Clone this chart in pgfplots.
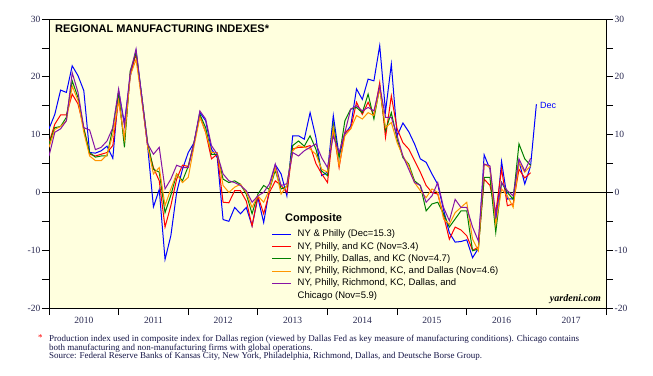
\documentclass[border=0pt]{standalone}
\usepackage{fontspec}
\setmainfont{Liberation Sans}
\newfontfamily\seriffont{Liberation Serif}
\usepackage{pgfplots}
\usepackage{pgfplotstable}
\pgfplotsset{compat=1.18}
\definecolor{bgyellow}{RGB}{255,255,222}
\definecolor{tickcol}{RGB}{40,40,80}
\definecolor{footcol}{RGB}{20,20,70}
\definecolor{sblue}{RGB}{0,0,255}
\definecolor{sred}{RGB}{255,0,0}
\definecolor{sgreen}{RGB}{0,128,0}
\definecolor{sorange}{RGB}{255,150,0}
\definecolor{spurple}{RGB}{135,20,165}

\pgfplotstableread{
i ny kc dal rich chi
0 11 8.6 8.4 7.8 6.3
1 13.5 11.8 11.2 10.9 10.4
2 17.7 13.4 11.4 11.4 11
3 17.3 13.4 13 12.4 12.4
4 21.9 17.0 19.3 18.4 20.7
5 20.2 15.3 16.4 15.9 17.3
6 17.6 11.2 11 10.4 11.2
7 6.9 6.6 6.9 6.3 10.8
8 6.8 6.3 6.1 5.5 7.4
9 7.2 6.6 6.3 5.5 7.8
10 8 6.9 6.3 6.5 8.9
11 5.9 8.1 11.2 10 11.2
12 17.5 16.1 17.3 15.9 17.9
13 12 9 7.8 9.2 11.5
14 20 20.5 21 20.2 20.7
15 24.5 23.9 24.2 23 24.8
16 16.5 16 16.5 16 16.5
17 8 8 8.6 8 8.4
18 -2.5 4.3 4 3.2 6.6
19 0.5 2 3.5 4.3 7.8
20 -11.6 -6 -3.5 -2.3 0.6
21 -7.5 -2.3 -0.5 0.6 2.3
22 0 2.3 3.2 3.2 4.7
23 4 4.7 2 1.7 4.3
24 6.9 4.5 4.5 2.6 4.3
25 8.6 8.6 8.6 8 8.6
26 13.8 13.2 13.5 13 14.1
27 12.4 10.4 11.2 10.4 12.7
28 7.5 5.8 6.6 6.9 8.1
29 6 6.6 6.6 6.9 6.6
30 -4.7 -1.7 2.3 1.2 3.2
31 -5 -1.8 1.7 0 2
32 -2.6 0.3 2 0.9 1.7
33 -3.7 0.3 1.4 1.4 1.2
34 -2.6 -1.5 -0.3 0 0.3
35 -5.8 -5.8 -3.7 -2.6 -1.7
36 -0.9 -0.6 -0.3 -0.6 -0.6
37 -5.2 -3.7 1.2 -1.7 0
38 0.6 0 0.5 0.5 1.5
39 4.8 2 3.8 4.3 4.9
40 3.2 1.2 0.6 -0.3 1.2
41 -0.6 0 1 1.2 1.5
42 9.8 7.5 8.1 7.2 6.9
43 9.8 7.8 8.9 8.1 6.3
44 9.2 7.8 8 7.8 7.2
45 13.8 8.1 9.8 7.5 7.8
46 9.5 5 7.5 6.6 8.4
47 2.9 3.2 3.7 4 6
48 3.5 1.7 2.9 3.5 4.3
49 13.3 11 11.8 11.2 9.8
50 6.3 4.3 6 4.6 6.9
51 10.1 10.4 12.4 9.8 10.4
52 11.5 11 14.4 11 14.4
53 17.9 15.6 14.7 13.3 15
54 16.1 13.5 13.8 12.7 14.1
55 19.6 15.6 17 13.8 14.7
56 19.3 13.3 12.7 13.3 14.1
57 25.4 19 18.2 17.9 18.4
58 14 9.5 10.7 11.2 13
59 22.2 16.7 13.8 12.1 13
60 9.8 11 9.2 8.6 9.8
61 12 8.6 6 6.3 6.3
62 10.5 7.5 4.9 4.6 4
63 8.4 5.5 2 1.7 1.7
64 5.8 3.5 1.2 0.3 1.2
65 5.2 1.2 -3.2 -0.9 -1.7
66 3.2 0 -2 0.6 -0.6
67 1.4 -0.3 -1.7 0 1.7
68 -3 -4 -3.7 -4.6 -2.6
69 -7 -8.1 -6 -5.5 -4.9
70 -8.6 -6 -4.6 -3.5 -1.2
71 -8.5 -6.5 -3.2 -2.6 -2.6
72 -8.2 -7.5 -3.2 -1.7 -2.6
73 -11.3 -10 -10.1 -8.1 -6
74 -9.7 -9.5 -9.8 -10.1 -8.4
75 6.5 2.3 2.6 4.9 4.9
76 4.0 1.2 2.6 4.3 4.6
77 -5.4 -3.5 -6.9 -5.5 -4
78 5.35 4 1.7 0.6 1.7
79 -1.15 -2.3 0 -0.6 0.3
80 -1.1 -2 -1.2 -2.6 -0.6
81 5.4 4 8.4 5.2 5.8
82 1.45 2.5 5.8 3.5 3.7
83 4.55 3.4 4.7 4.6 5.9
84 15.25 nan nan nan nan
}\datatable

\begin{document}
\begin{tikzpicture}
\useasboundingbox (0,0) rectangle (653bp,376bp);
\begin{axis}[
  at={(49bp,68bp)}, anchor=south west,
  scale only axis, width=557bp, height=289bp,
  xmin=0, xmax=96, ymin=-20, ymax=30,
  axis background/.style={fill=bgyellow},
  axis line style={line width=1bp},
  tick align=outside,
  xtick={0,12,...,96},
  xticklabels={2010,2011,2012,2013,2014,2015,2016,2017,{}},
  xticklabel style={xshift=34.8bp, yshift=1.5bp, font=\fontsize{9.5bp}{10bp}\seriffont, text=tickcol},
  xtick pos=left,
  ytick={-20,-10,...,30},
  yticklabels={-20,-10,0,10,20,30},
  minor ytick={-15,-5,5,15,25},
  ytick pos=left,
  yticklabel style={font=\fontsize{9.5bp}{10bp}\seriffont, text=tickcol, inner sep=1.5bp},
  major tick length=7bp, minor tick length=7bp,
  every tick/.style={black, line width=0.8bp},
  legend cell align=left,
  legend image code/.code={\draw[#1] (0bp,0bp) -- (19bp,0bp);},
  legend style={at={(0.3998,0.2706)}, anchor=north west, draw=none, fill=none,
    inner sep=0pt, outer sep=0pt, row sep=3.3bp, column sep=6bp,
    font=\fontsize{9.5bp}{11bp}\selectfont,
    nodes={inner sep=0pt, text height=7bp, text depth=2bp}},
  every axis plot/.append style={line width=1bp},
]
\addplot[black, line width=0.9bp, forget plot] coordinates {(0,0) (96,0)};
\addplot[sblue] table[x=i, y=ny] {\datatable};
\addlegendentry{NY \& Philly (Dec=15.3)}
\addplot[sred] table[x=i, y=kc] {\datatable};
\addlegendentry{NY, Philly, and KC (Nov=3.4)}
\addplot[sgreen] table[x=i, y=dal] {\datatable};
\addlegendentry{NY, Philly, Dallas, and KC (Nov=4.7)}
\addplot[sorange] table[x=i, y=rich] {\datatable};
\addlegendentry{NY, Philly, Richmond, KC, and Dallas (Nov=4.6)}
\addplot[spurple] table[x=i, y=chi] {\datatable};
\addlegendentry{NY, Philly, Richmond, KC, Dallas, and}
\addlegendimage{empty legend}
\addlegendentry{Chicago (Nov=5.9)}
\node[anchor=base west, inner sep=0pt, font=\fontsize{11bp}{13bp}\selectfont\bfseries] at (axis cs:1.03,27.7) {REGIONAL MANUFACTURING INDEXES*};
\node[anchor=base west, inner sep=0pt, font=\fontsize{11bp}{13bp}\selectfont\bfseries] at (axis cs:40.68,-5.07) {Composite};
\node[anchor=base west, inner sep=0pt, font=\fontsize{9bp}{10bp}\selectfont, text=sblue] at (axis cs:84.6,14.55) {Dec};
\node[anchor=base east, inner sep=0pt, font=\fontsize{10bp}{12bp}\seriffont\bfseries\itshape] at (axis cs:95.14,-18.96) {yardeni.com};
\end{axis}
\begin{axis}[
  at={(49bp,68bp)}, anchor=south west,
  scale only axis, width=557bp, height=289bp,
  xmin=0, xmax=96, ymin=-20, ymax=30,
  axis x line=none, axis y line*=right,
  axis line style={line width=1bp},
  tick align=outside,
  ytick={-20,-10,...,30},
  yticklabels={-20,-10,0,10,20,30},
  minor ytick={-15,-5,5,15,25},
  yticklabel style={font=\fontsize{9.5bp}{10bp}\seriffont, text=tickcol, inner sep=1.5bp},
  major tick length=7bp, minor tick length=7bp,
  every tick/.style={black, line width=0.8bp},
]
\end{axis}
\node[anchor=base west, inner sep=0pt, font=\fontsize{9bp}{10bp}\seriffont, text=red] at (38bp,36bp) {*};
\node[anchor=base west, inner sep=0pt, font=\fontsize{9bp}{10bp}\seriffont, text=footcol] at (49bp,35bp) {Production index used in composite index for Dallas region (viewed by Dallas Fed as key measure of manufacturing conditions). Chicago contains};
\node[anchor=base west, inner sep=0pt, font=\fontsize{9bp}{10bp}\seriffont, text=footcol] at (49bp,26bp) {both manufacturing and non-manufacturing firms with global operations.};
\node[anchor=base west, inner sep=0pt, font=\fontsize{9bp}{10bp}\seriffont, text=footcol] at (49bp,17.7bp) {Source: Federal Reserve Banks of Kansas City, New York, Philadelphia, Richmond, Dallas, and Deutsche Borse Group.};
\end{tikzpicture}
\end{document}
